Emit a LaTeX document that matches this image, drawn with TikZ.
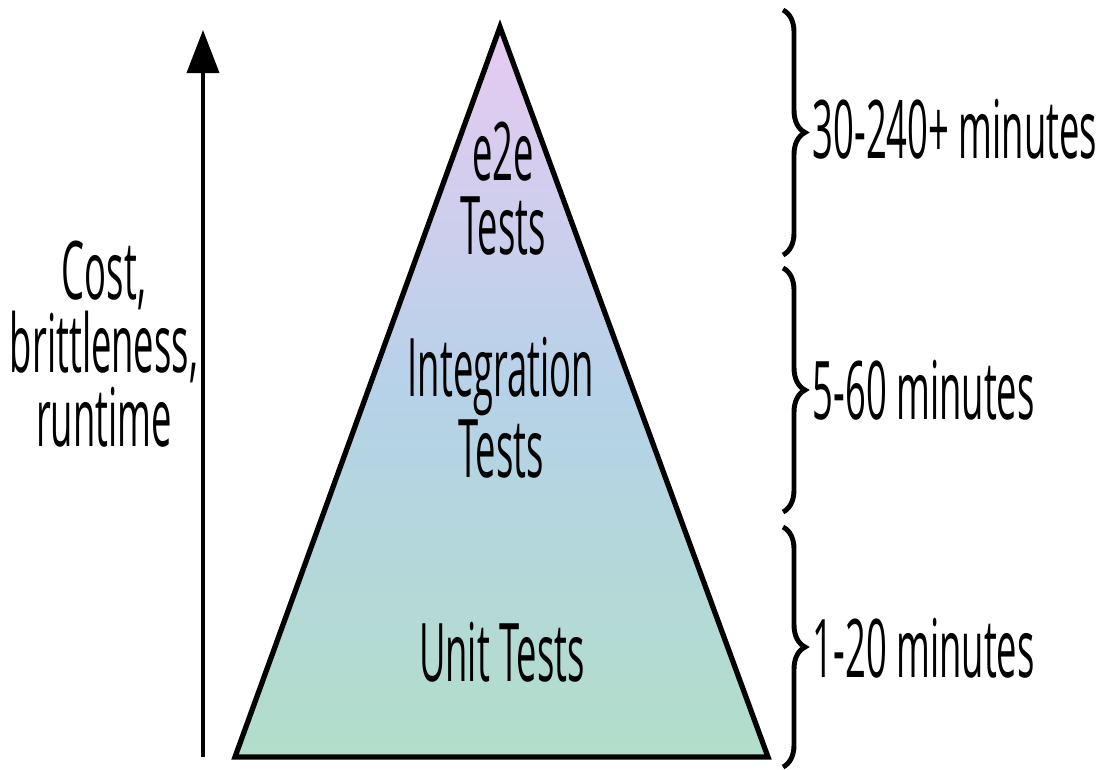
\documentclass[tikz,border=0pt]{standalone}
\usepackage{fontspec}
\setmainfont{Open Sans}[FakeStretch=0.45]
\usetikzlibrary{arrows.meta,decorations.pathreplacing}
\definecolor{pyrtop}{RGB}{232,202,242}
\definecolor{pyrmid}{RGB}{182,210,232}
\definecolor{pyrbot}{RGB}{178,222,202}
\begin{document}
\begin{tikzpicture}[x=0.01cm,y=-0.01cm,every node/.style={font=\fontsize{23}{21}\selectfont,inner sep=0pt},
  timebrace/.style={decorate,decoration={brace,amplitude=0.22cm},line width=1.4pt},
  timelabel/.style={anchor=base west}]
\useasboundingbox (0,0) rectangle (1110,769);
% pyramid
\coordinate (apex) at (500,27);
\coordinate (baseL) at (235,757);
\coordinate (baseR) at (768,757);
\draw[line width=1.5pt,top color=pyrtop,bottom color=pyrbot,middle color=pyrmid] (apex) -- (baseR) -- (baseL) -- cycle;
\node[align=center] (e2e) at (503,189) {e2e\\Tests};
\node[align=center] (integ) at (501,408) {Integration\\Tests};
\node (unit) at (502,652) {Unit Tests};
% cost axis
\coordinate (axisfoot) at (203,757);
\coordinate (axistop) at (203,30);
\draw[-{Triangle[length=0.43cm,width=0.32cm]},line width=1.1pt] (axisfoot) -- (axistop);
\node[align=center] (cost) at (104,344) {Cost,\\brittleness,\\runtime};
% runtimes
\coordinate (b1top) at (783,10);
\coordinate (b1bot) at (783,255);
\coordinate (b2top) at (783,268);
\coordinate (b2bot) at (783,512);
\coordinate (b3top) at (783,527);
\coordinate (b3bot) at (783,767);
\draw[timebrace] (b1top) -- (b1bot);
\draw[timebrace] (b2top) -- (b2bot);
\draw[timebrace] (b3top) -- (b3bot);
\node[timelabel] (e2etime) at (812,158) {30-240+ minutes};
\node[timelabel] (integtime) at (812,419) {5-60 minutes};
\node[timelabel] (unittime) at (812,677) {1-20 minutes};
\end{tikzpicture}
\end{document}
